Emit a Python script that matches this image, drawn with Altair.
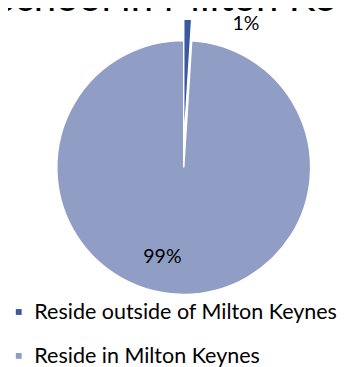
import altair as alt
import pandas as pd

categories = ["Reside outside of Milton Keynes", "Reside in Milton Keynes"]
values = [1, 99]
labels = ["1%", "99%"]
colors = ["#3B5A9D", "#909EC6"]
title_text = "school in Milton Keynes"

df = pd.DataFrame({
    "category": categories,
    "value": values,
    "label": labels,
    "idx": list(range(len(categories))),
})

CX, CY, R = 180, 159, 130
FONT = "Lato"

base = alt.Chart(df).encode(
    theta=alt.Theta("value:Q", stack=True),
    order=alt.Order("idx:Q"),
)

color = alt.Color(
    "category:N",
    scale=alt.Scale(domain=categories, range=colors),
    legend=alt.Legend(
        title=None, orient="none", legendX=0, legendY=296,
        symbolType="square", symbolSize=36, symbolStrokeWidth=0,
        labelFontSize=22, labelFont=FONT, labelColor="black",
        rowPadding=23, labelLimit=400, labelOffset=5,
    ),
)

pie = base.mark_arc(stroke="white", strokeWidth=1.5, outerRadius=R).encode(
    color=color,
    opacity=alt.condition("datum.idx == 0", alt.value(0), alt.value(1)),
    x=alt.value(CX), y=alt.value(CY),
)
explode = base.mark_arc(stroke="white", strokeWidth=1.5, outerRadius=R).encode(
    color=color,
    opacity=alt.condition("datum.idx == 0", alt.value(1), alt.value(0)),
    x=alt.value(CX), y=alt.value(CY - 22),
)

lab1 = base.mark_text(radius=150, dx=59, dy=3, fontSize=20, font=FONT, color="black").encode(
    text=alt.condition("datum.idx == 0", alt.Text("label:N"), alt.value("")),
    x=alt.value(CX), y=alt.value(CY),
)
lab2 = base.mark_text(radius=90, dx=-19, dy=2, fontSize=20, font=FONT, color="black").encode(
    text=alt.condition("datum.idx == 1", alt.Text("label:N"), alt.value("")),
    x=alt.value(CX), y=alt.value(CY),
)

title = alt.Chart(pd.DataFrame({"t": [title_text]})).mark_text(
    align="left", baseline="alphabetic", fontSize=41, font=FONT, color="black"
).encode(text="t:N", x=alt.value(-11), y=alt.value(-1))

chart = alt.layer(pie, explode, lab1, lab2, title).properties(
    width=338, height=359, padding=0, autosize=alt.AutoSizeParams(type="none")
).configure_view(stroke=None)

chart.save("out.html", embed_options={"renderer": "svg", "actions": False})
